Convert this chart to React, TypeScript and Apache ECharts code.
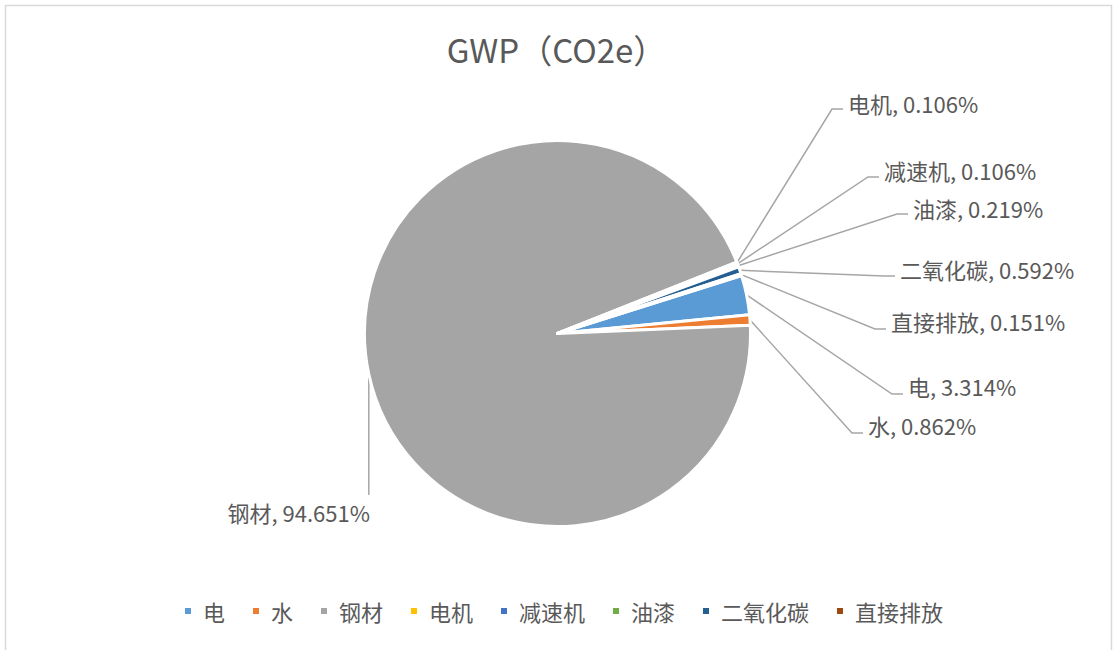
import { useEffect, useRef } from "react";
import * as echarts from "echarts";

const categories = ["电", "水", "钢材", "电机", "减速机", "油漆", "二氧化碳", "直接排放"];
const shares = [3.314, 0.862, 94.651, 0.106, 0.106, 0.219, 0.592, 0.151];
const colors = ["#5B9BD5", "#ED7D31", "#A5A5A5", "#FFC000", "#4472C4", "#70AD47", "#255E91", "#9E480E"];
const titleText = "GWP（CO2e）";

// label placement (style only): text anchor x, y and leader-line elbow y
const labelSpots = [
  { x: 908, y: 386, ly: 394 },
  { x: 868, y: 425, ly: 433 },
  { x: 370, y: 512, ly: 495 },
  { x: 848, y: 103, ly: 109 },
  { x: 884, y: 170, ly: 177 },
  { x: 913, y: 208, ly: 214 },
  { x: 900, y: 269, ly: 276 },
  { x: 891, y: 321, ly: 329 },
];

const FONT = "'Noto Sans CJK SC', 'Noto Sans', sans-serif";

export default function App() {
  const ref = useRef<HTMLDivElement>(null);
  useEffect(() => {
    if (!ref.current) return;
    const chart = echarts.init(ref.current, undefined, { renderer: "svg" });
    const data = categories.map((name, i) => ({
      name,
      value: shares[i],
      itemStyle: { color: colors[i] },
    }));
    chart.setOption({
      animation: false,
      backgroundColor: "#ffffff",
      title: {
        text: titleText,
        left: "center",
        top: 27,
        textStyle: { fontSize: 33, color: "#595959", fontWeight: "normal", fontFamily: FONT },
      },
      legend: {
        data: categories,
        left: 178,
        top: 593,
        icon: "rect",
        itemWidth: 8,
        itemHeight: 8,
        itemGap: 26,
        textStyle: { fontSize: 22, color: "#595959", fontFamily: FONT, padding: [0, 0, 0, 6], lineHeight: 26 },
      },
      graphic: [
        {
          type: "rect",
          shape: { x: 5.5, y: 5.5, width: 1106, height: 700 },
          style: { fill: "none", stroke: "#D9D9D9", lineWidth: 1.5 },
          silent: true,
        },
      ],
      series: [
        {
          type: "pie",
          center: [557.5, 333.5],
          radius: 193,
          startAngle: 17.5,
          clockwise: true,
          avoidLabelOverlap: false,
          itemStyle: { borderColor: "#ffffff", borderWidth: 3 },
          emphasis: { disabled: true },
          label: {
            show: true,
            position: "outside",
            fontSize: 22,
            color: "#595959",
            fontFamily: FONT,
            formatter: (p: any) => `${p.name}, ${Number(p.value).toFixed(3)}%`,
          },
          labelLine: {
            show: true,
            length: 20,
            length2: 10,
            lineStyle: { color: "#A6A6A6", width: 1.5 },
          },
          labelLayout: (params: any) => {
            const s = labelSpots[params.dataIndex];
            const pts = params.labelLinePoints;
            const p0 = pts && pts[0] ? pts[0] : [s.x, s.ly];
            if (params.dataIndex === 2) {
              return {
                x: s.x,
                y: s.y,
                align: "right",
                verticalAlign: "middle",
                labelLinePoints: [p0, [p0[0], s.ly], [p0[0], s.ly]],
              };
            }
            return {
              x: s.x,
              y: s.y,
              align: "left",
              verticalAlign: "middle",
              labelLinePoints: [p0, [s.x - 16, s.ly], [s.x - 5, s.ly]],
            };
          },
          data,
        },
      ],
    });
    return () => chart.dispose();
  }, []);
  return (
    <div
      ref={ref}
      style={{ position: "fixed", left: 0, top: 0, width: 1113, height: 650 }}
    />
  );
}
